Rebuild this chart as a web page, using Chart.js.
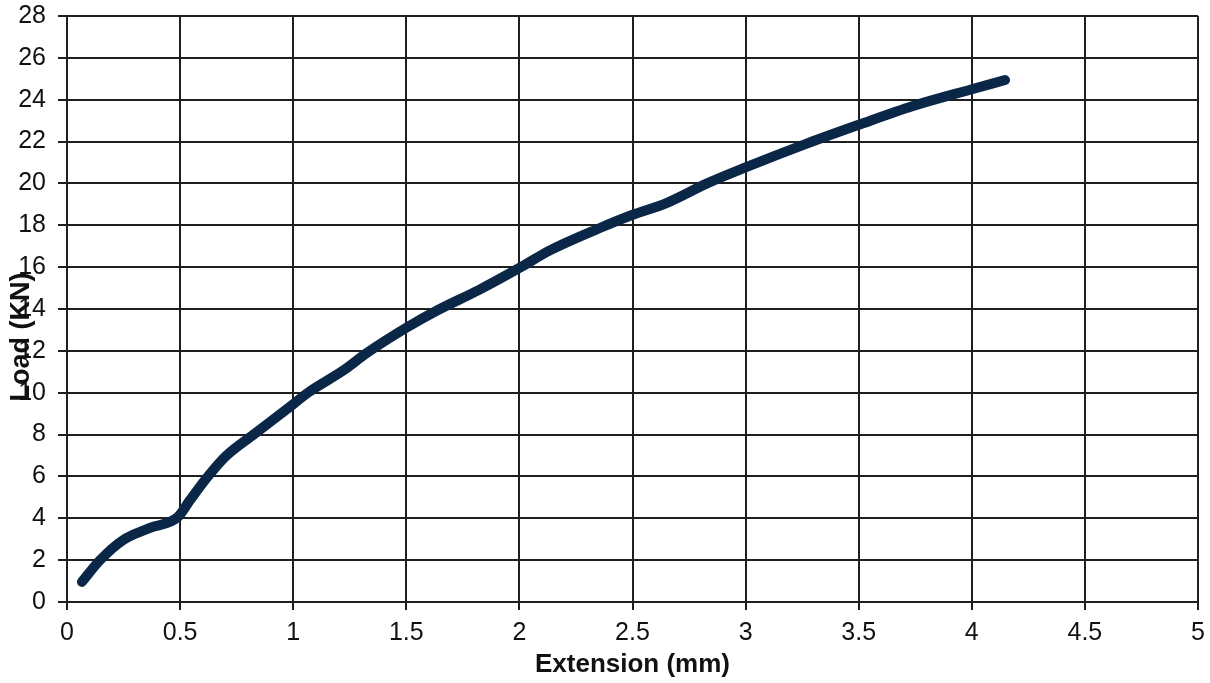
<!DOCTYPE html>
<html>
<head>
<meta charset="utf-8">
<script src="https://cdn.jsdelivr.net/npm/chart.js@4.4.0/dist/chart.umd.min.js"></script>
<style>
    html, body { margin: 0; padding: 0; background: #fff; }
    #wrap { width: 1210px; height: 683px; position: relative; }
</style>
</head>
<body>
<div id="wrap"><canvas id="loadChart" width="1210" height="683"></canvas></div>
<script>
// extension in mm, load in kN
const extension = [0.066, 0.146, 0.248, 0.367, 0.49, 0.544, 0.623, 0.7, 0.831, 1.0, 1.065, 1.22, 1.326, 1.5, 1.64, 1.82, 2.0, 2.135, 2.356, 2.498, 2.65, 2.83, 2.997, 3.27, 3.5, 3.74, 4.0, 4.147];
const load = [0.96, 2.0, 2.96, 3.54, 4.06, 4.87, 6.0, 6.95, 8.05, 9.45, 10.0, 11.05, 11.9, 13.1, 13.95, 14.9, 15.96, 16.8, 17.87, 18.49, 19.06, 20.0, 20.75, 21.9, 22.8, 23.7, 24.5, 24.94];

const xTitle = "Extension (mm)";
const yTitle = "Load (KN)";

const gridColor = '#1f1f1f';
const fontFamily = '"Liberation Sans", Arial, sans-serif';

// y title sits on top of the tick labels in the original, so draw it by hand
const yTitlePlugin = {
    id: 'yTitle',
    afterDraw(chart) {
        const ctx = chart.ctx;
        ctx.save();
        ctx.translate(22, 337);
        ctx.rotate(-Math.PI / 2);
        ctx.font = 'bold 27px ' + fontFamily;
        ctx.fillStyle = '#111';
        ctx.textAlign = 'center';
        ctx.textBaseline = 'middle';
        ctx.fillText(yTitle, 0, 0);
        ctx.restore();
    }
};

const points = extension.map((x, i) => ({x: x, y: load[i]}));

new Chart(document.getElementById('loadChart').getContext('2d'), {
    type: 'scatter',
    data: {
        datasets: [{
            data: points,
            showLine: true,
            borderColor: '#0b2748',
            borderWidth: 10,
            borderCapStyle: 'round',
            borderJoinStyle: 'round',
            cubicInterpolationMode: 'monotone',
            pointRadius: 0
        }]
    },
    options: {
        responsive: false,
        animation: false,
        layout: { padding: { left: 0, right: 12, top: 16, bottom: 0 } },
        plugins: { legend: { display: false }, tooltip: { enabled: false } },
        scales: {
            x: {
                type: 'linear',
                min: 0,
                max: 5,
                afterFit: (s) => {
                    s.height = 81;
                    s.paddingLeft = 0;
                    s.paddingRight = 0;
                },
                ticks: {
                    stepSize: 0.5,
                    color: '#111',
                    padding: 8,
                    font: { family: fontFamily, size: 25 },
                    maxRotation: 0,
                    callback: (v) => String(v)
                },
                grid: { color: gridColor, lineWidth: 2, tickLength: 8 },
                border: { color: gridColor, width: 2 },
                title: {
                    display: true,
                    text: xTitle,
                    color: '#111',
                    font: { family: fontFamily, size: 26, weight: 'bold' },
                    padding: { top: 0, bottom: 3 }
                }
            },
            y: {
                type: 'linear',
                min: 0,
                max: 28,
                afterFit: (s) => {
                    s.width = 67;
                    s.paddingTop = 0;
                    s.paddingBottom = 0;
                },
                ticks: {
                    stepSize: 2,
                    color: '#111',
                    padding: 12,
                    font: { family: fontFamily, size: 25 },
                    callback: (v) => String(v)
                },
                grid: { color: gridColor, lineWidth: 2, tickLength: 9 },
                border: { color: gridColor, width: 2 }
            }
        }
    },
    plugins: [yTitlePlugin]
});
</script>
</body>
</html>
